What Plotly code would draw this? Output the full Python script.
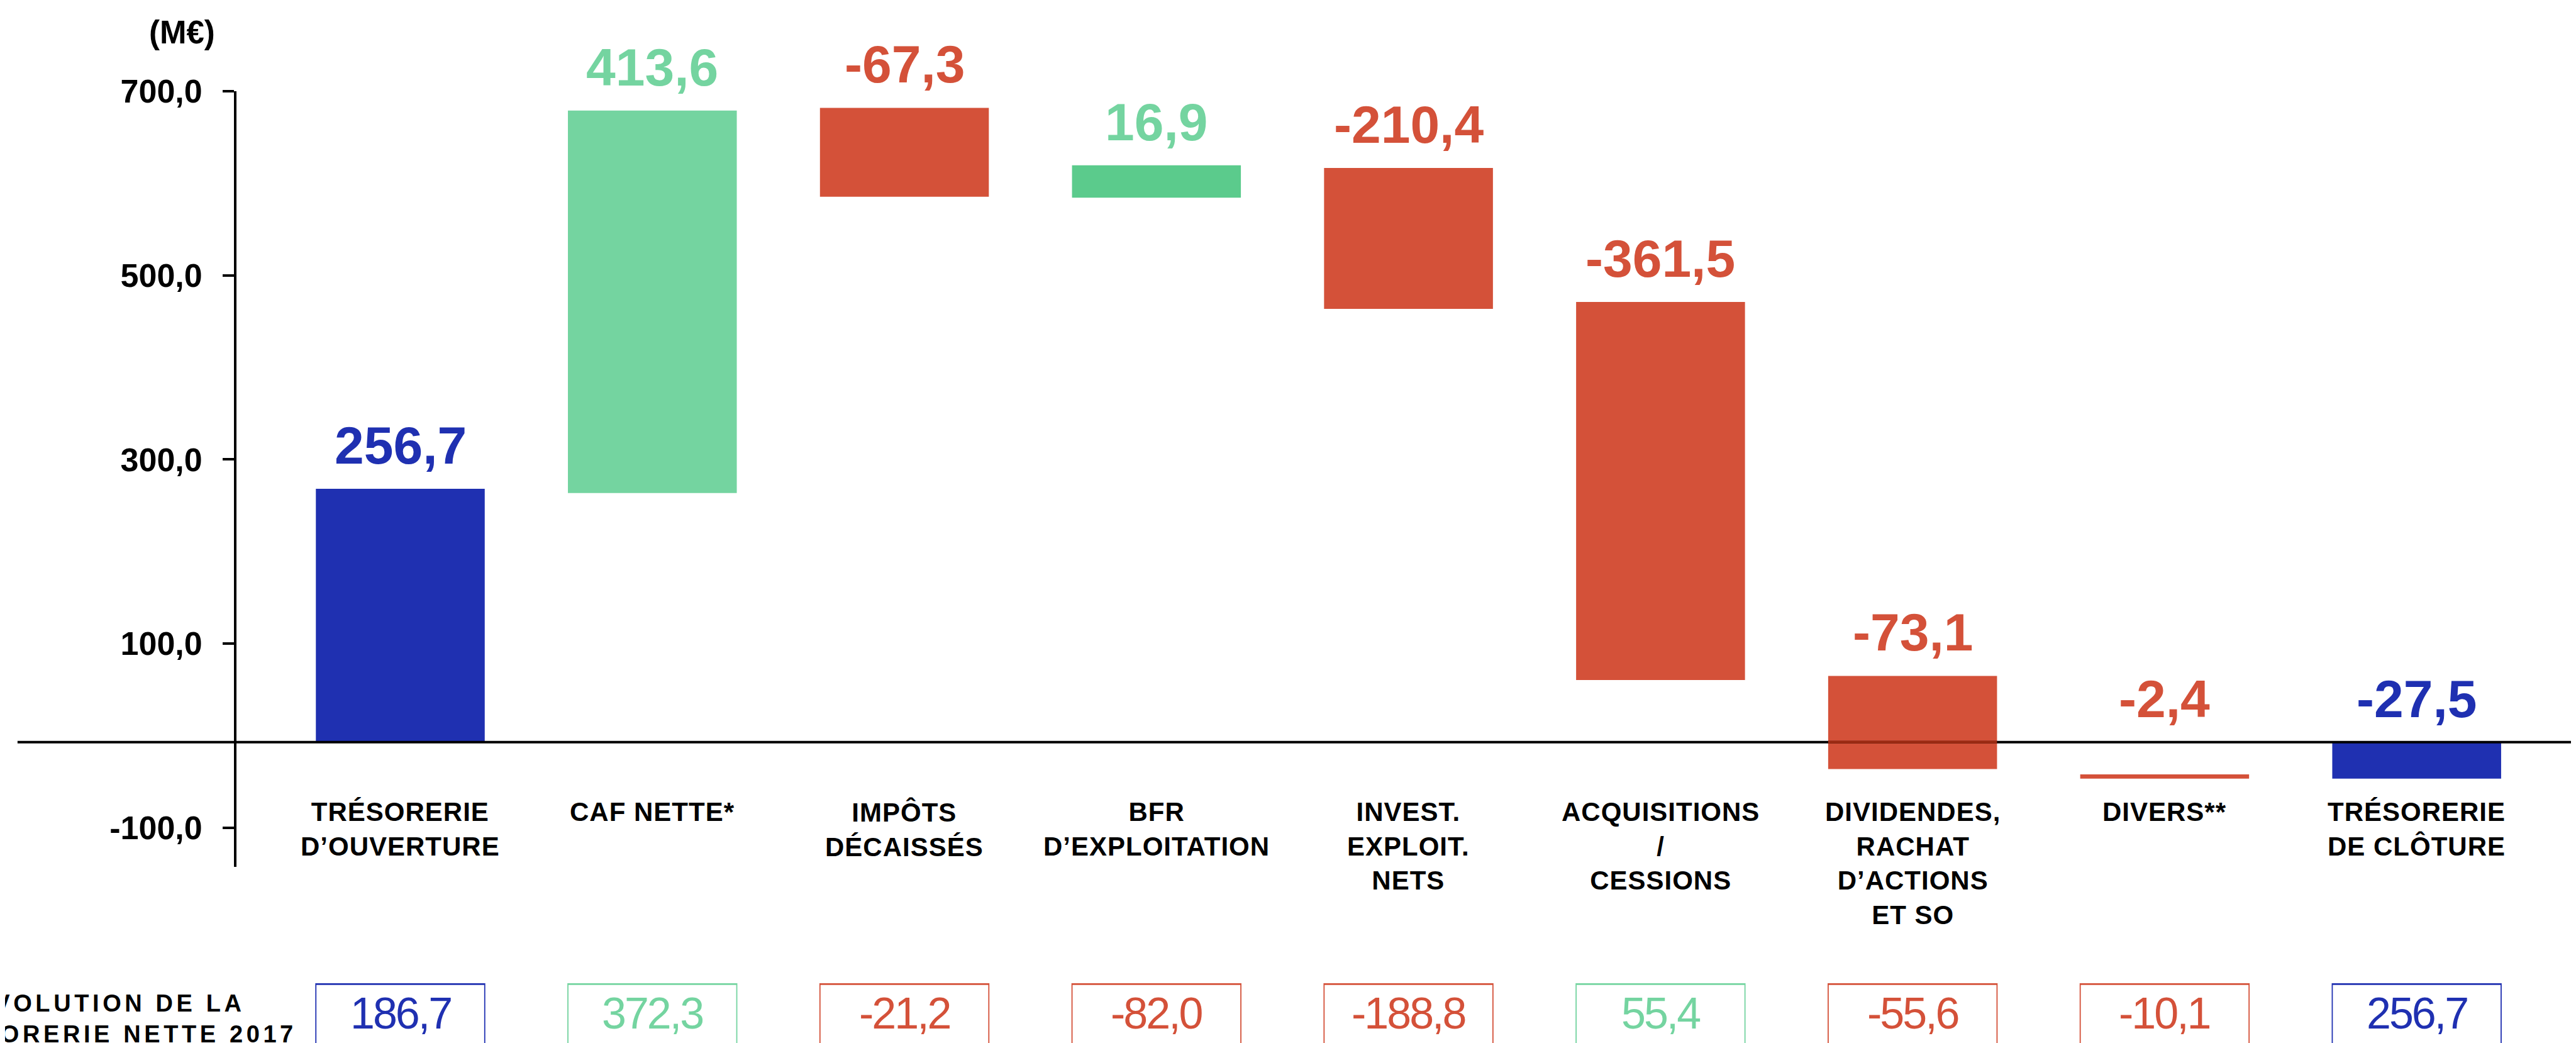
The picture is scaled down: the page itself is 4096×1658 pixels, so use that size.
import plotly.graph_objects as go

# ---------------- data ----------------
categories = [
    "TRÉSORERIE<br>D’OUVERTURE",
    "CAF NETTE*",
    "IMPÔTS<br>DÉCAISSÉS",
    "BFR<br>D’EXPLOITATION",
    "INVEST.<br>EXPLOIT.<br>NETS",
    "ACQUISITIONS<br>/<br>CESSIONS",
    "DIVIDENDES,<br>RACHAT<br>D’ACTIONS<br>ET SO",
    "DIVERS**",
    "TRÉSORERIE<br>DE CLÔTURE",
]
kinds = ["total", "flow", "flow", "flow", "flow", "flow", "flow", "flow", "total"]
flow_values = [256.7, 413.6, -67.3, 16.9, -210.4, -361.5, -73.1, -2.4, -27.5]
# visual extent of each bar on the value axis, as drawn in the picture
bar_low = [-7.1, 263.6, 585.4, 584.3, 463.5, 60.4, -36.2, -46.6, -46.6]
bar_high = [268.2, 679.0, 681.9, 619.5, 616.6, 471.1, 64.9, -42.0, -7.1]
values_2017 = [186.7, 372.3, -21.2, -82.0, -188.8, 55.4, -55.6, -10.1, 256.7]
y_ticks = [700, 500, 300, 100, -100]
baseline_level = -7.1          # where the horizontal axis line is drawn
row_title_lines = ["ÉVOLUTION DE LA", "TRÉSORERIE NETTE 2017"]
unit_label = "(M€)"

# ---------------- styles ----------------
BLUE = "#1F30B1"
GREEN = "#74D4A0"
GREEN_DARK = "#5BCB8C"
RED = "#D45139"
bar_colors = [BLUE, GREEN, RED, GREEN_DARK, RED, RED, RED, RED, BLUE]
label_colors = [BLUE, GREEN, RED, GREEN, RED, RED, RED, RED, BLUE]

W, H = 4096, 1658
PLOT_L, PLOT_R, PLOT_T, PLOT_B = 368.4, 4096, 136.8, 1369.8
Y_RANGE = [-142.5, 700]
X_RANGE = [-0.650, 8.652]
BAR_W = 0.67
FONT = "Liberation Sans, Arial, sans-serif"


def py(ypx):
    """target pixel row -> paper y"""
    return (PLOT_B - ypx) / (PLOT_B - PLOT_T)


def px(xpx):
    """target pixel column -> paper x"""
    return (xpx - PLOT_L) / (PLOT_R - PLOT_L)


def fmt(v):
    return f"{v:.1f}".replace(".", ",")


def spaced(text, ls):
    """apply letter spacing to every line of a (possibly multi-line) label"""
    return "<br>".join(
        f"<span style='letter-spacing:{ls}px'>{line}</span>" for line in text.split("<br>")
    )


xs = list(range(len(categories)))

fig = go.Figure()
fig.add_trace(go.Bar(
    x=xs,
    y=[h - l for h, l in zip(bar_high, bar_low)],
    base=bar_low,
    width=BAR_W,
    marker=dict(color=bar_colors, line=dict(width=0)),
    hoverinfo="skip",
))

annotations = []
shapes = []

# value labels above bars
for i, v in enumerate(flow_values):
    annotations.append(dict(
        x=i, y=max(bar_high[i], baseline_level), xref="x", yref="y",
        text=fmt(v), showarrow=False, xanchor="center", yanchor="bottom",
        yshift=20,
        font=dict(family=FONT, size=84, color=label_colors[i], weight="bold"),
    ))

# category labels
for i, c in enumerate(categories):
    annotations.append(dict(
        x=i, y=py(1257), xref="x", yref="paper",
        text=spaced(c, 1), showarrow=False, xanchor="center", yanchor="top", align="center",
        font=dict(family=FONT, size=42, color="black", weight="bold"),
    ))

# bottom row of boxes with 2017 values
for i, v in enumerate(values_2017):
    col = BLUE if kinds[i] == "total" else (GREEN if v >= 0 else RED)
    shapes.append(dict(
        type="rect", xref="x", yref="paper",
        x0=i - BAR_W / 2, x1=i + BAR_W / 2, y0=py(1800), y1=py(1555.6),
        line=dict(color=col, width=1.8), fillcolor="rgba(0,0,0,0)", layer="above",
    ))
    shapes.append(dict(
        type="line", xref="x", yref="paper",
        x0=i - BAR_W / 2, x1=i + BAR_W / 2, y0=py(1556.2), y1=py(1556.2),
        line=dict(color=col, width=2.6), layer="above",
    ))
    annotations.append(dict(
        x=i, y=py(1644), xref="x", yref="paper",
        text=spaced(fmt(v), -3), showarrow=False, xanchor="center", yanchor="bottom",
        font=dict(family=FONT, size=70, color=col),
    ))

# row title (partly cut by the left edge, as in the source)
annotations.append(dict(
    x=px(167), y=py(1563), xref="paper", yref="paper",
    text=spaced("<br>".join(row_title_lines), 5.6), showarrow=False,
    xanchor="center", yanchor="top", align="center",
    font=dict(family=FONT, size=38, color="black", weight="bold"),
))

# unit label
annotations.append(dict(
    x=px(282), y=py(13), xref="paper", yref="paper",
    text=unit_label, showarrow=False, xanchor="center", yanchor="top",
    font=dict(family=FONT, size=51, color="black", weight="bold"),
))

# horizontal baseline
shapes.append(dict(
    type="line", xref="paper", yref="y", x0=px(20.3), x1=1.0,
    y0=baseline_level, y1=baseline_level,
    line=dict(color="black", width=4), layer="above",
))
# darker overlap where the baseline crosses the dividends bar
j = 6
shapes.append(dict(
    type="line", xref="x", yref="y", x0=j - BAR_W / 2, x1=j + BAR_W / 2,
    y0=baseline_level, y1=baseline_level,
    line=dict(color="#9C2A12", width=4), layer="above",
))

fig.update_layout(
    width=W, height=H,
    margin=dict(l=PLOT_L, r=W - PLOT_R, t=PLOT_T, b=H - PLOT_B, pad=0, autoexpand=False),
    plot_bgcolor="white", paper_bgcolor="white",
    showlegend=False,
    annotations=annotations,
    shapes=shapes,
    xaxis=dict(range=X_RANGE, visible=False, showgrid=False, zeroline=False, automargin=False),
    yaxis=dict(
        range=Y_RANGE, tickvals=y_ticks, ticktext=[fmt(t) for t in y_ticks],
        showline=True, linecolor="black", linewidth=3.8,
        ticks="outside", ticklen=18, tickwidth=3.8, tickcolor="black",
        ticklabelstandoff=22,
        showgrid=False, zeroline=False, automargin=False,
        tickfont=dict(family=FONT, size=52, color="black", weight="bold"),
    ),
)

fig.write_html("out.html")
